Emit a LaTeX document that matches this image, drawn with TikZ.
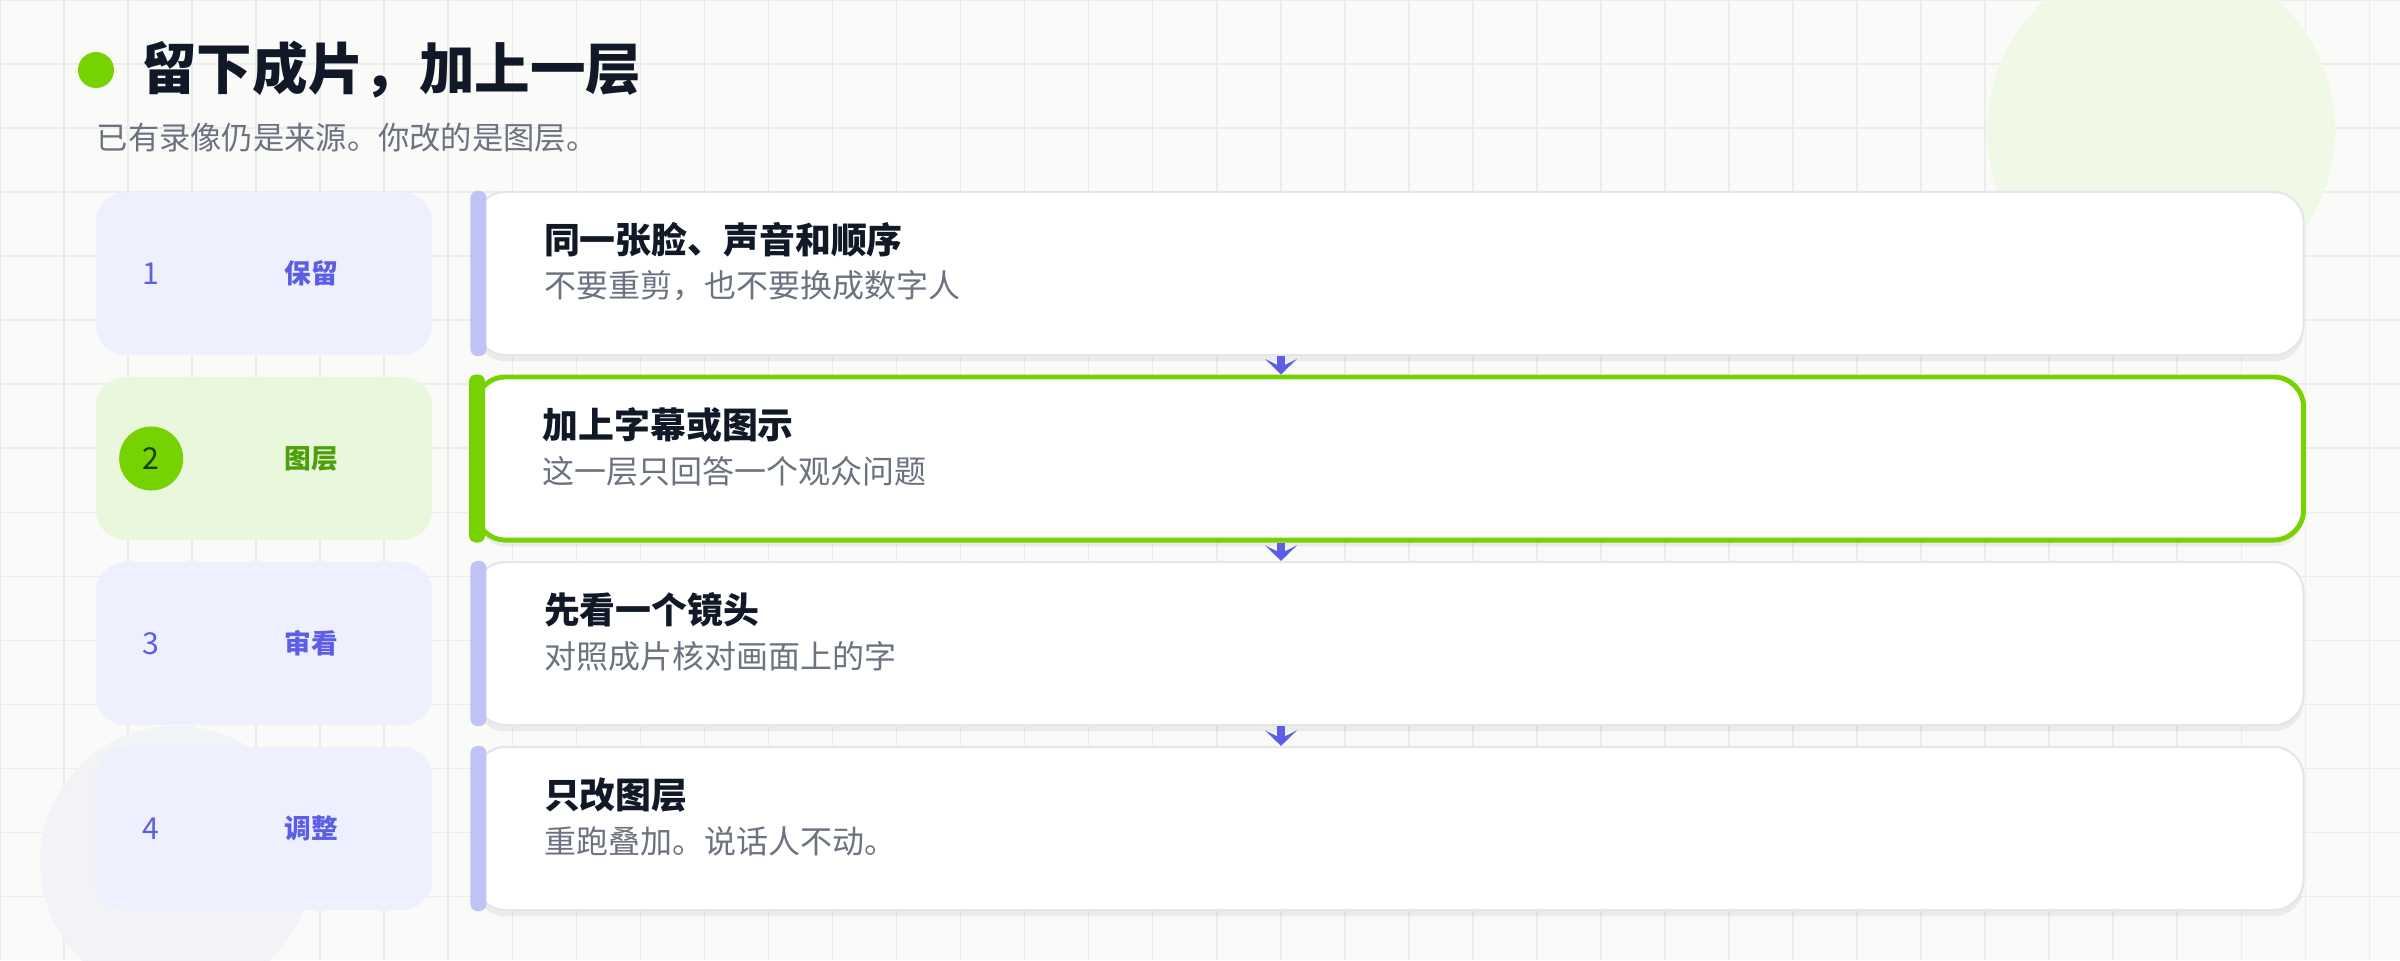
\documentclass[tikz,border=0pt]{standalone}
\usepackage{fontspec}
\setmainfont{Noto Sans CJK SC}
\usetikzlibrary{arrows.meta,positioning,calc,shadows}
\definecolor{pagebg}{RGB}{250,251,249}
\definecolor{gridline}{RGB}{235,237,235}
\definecolor{lime}{RGB}{118,210,0}
\definecolor{limesoft}{RGB}{233,247,220}
\definecolor{limetext}{RGB}{78,160,10}
\definecolor{limedark}{RGB}{24,64,0}
\definecolor{indigo}{RGB}{92,95,230}
\definecolor{indigosoft}{RGB}{238,240,254}
\definecolor{indigobar}{RGB}{192,195,248}
\definecolor{cardedge}{RGB}{228,230,236}
\definecolor{ink}{RGB}{17,24,39}
\definecolor{muted}{RGB}{107,114,128}
\definecolor{blobgreen}{RGB}{240,248,230}
\definecolor{blobgray}{RGB}{242,243,246}
\tikzset{
  titledot/.style={circle, fill=lime, minimum size=0.36cm, inner sep=0pt},
  pagetitle/.style={inner sep=0pt, text=ink, font=\fontsize{15.8}{19}\selectfont\bfseries},
  pagesub/.style={inner sep=0pt, anchor=west, text=muted, font=\fontsize{8.9}{11}\selectfont},
  stepbox/.style={rounded corners=0.3cm, minimum width=3.36cm, minimum height=1.63cm, inner sep=0pt},
  numdot/.style={circle, minimum size=0.64cm, inner sep=0pt, font=\fontsize{8.6}{10}\selectfont},
  steplabel/.style={inner sep=0pt, font=\fontsize{7.6}{9}\selectfont\bfseries},
  card/.style={rounded corners=0.3cm, fill=white, minimum width=18.27cm, minimum height=1.63cm, inner sep=0pt,
    drop shadow={shadow xshift=0pt, shadow yshift=-1.8pt, opacity=0.06, fill=black}},
  cardtitle/.style={anchor=west, inner sep=0pt, text=ink, font=\fontsize{10.2}{12}\selectfont\bfseries},
  cardsub/.style={anchor=west, inner sep=0pt, text=muted, font=\fontsize{9.1}{11}\selectfont},
  flowarrow/.style={draw=indigo, line width=2.3pt, -{Stealth[length=4.4pt, width=9pt, inset=2.2pt]}}
}
\begin{document}
\begin{tikzpicture}[x=0.01cm, y=-0.01cm]
  \useasboundingbox (0,0) rectangle (2400,960);

  %% Page and grid
  \fill[pagebg] (0,0) rectangle (2400,960);
  \draw[gridline, line width=0.45pt, step=0.64cm] (0,0) grid (2400,960);
  \fill[blobgreen] (2161,130) circle[radius=1.74cm];
  \fill[blobgray] (176,862) circle[radius=1.36cm];

  %% Heading
  \node[titledot] (dot) at (96,70) {};
  \node[pagetitle, right=0.26cm of dot] (title) {留下成片，加上一层};
  \node[pagesub] (sub) at (96,138) {已有录像仍是来源。你改的是图层。};

  \coordinate (ax) at (1281,0);

  %% Steps and cards
  \foreach \i/\lab/\ttl/\sub/\bg/\lfg/\nbg/\nfg/\edge/\ew/\barc
     [evaluate=\i as \rowy using 273.5+185*(\i-1)] in {
       1/保留/同一张脸、声音和顺序/不要重剪，也不要换成数字人/indigosoft/indigo/indigosoft/indigo/cardedge/0.6pt/indigobar,
       2/图层/加上字幕或图示/这一层只回答一个观众问题/limesoft/limetext/lime/limedark/lime/1.4pt/lime,
       3/审看/先看一个镜头/对照成片核对画面上的字/indigosoft/indigo/indigosoft/indigo/cardedge/0.6pt/indigobar,
       4/调整/只改图层/重跑叠加。说话人不动。/indigosoft/indigo/indigosoft/indigo/cardedge/0.6pt/indigobar}{
    \node[stepbox, fill=\bg] (s\i) at (264,\rowy) {};
    \node[numdot, fill=\nbg, text=\nfg] (n\i) at ($(s\i.west)+(56,0)$) {\i};
    \node[steplabel, text=\lfg] (l\i) at ($(s\i.west)+(216,0)$) {\lab};
    \node[card, draw=\edge, line width=\ew] (c\i) at (1389.5,\rowy) {};
    \fill[fill=\barc, rounded corners=0.07cm] ($(c\i.north west)+(-4,0)$) rectangle ($(c\i.south west)+(12,0)$);
    \node[cardtitle] (t\i) at ($(c\i.west)+(69,-33.5)$) {\ttl};
    \node[cardsub] (d\i) at ($(c\i.west)+(69,12.5)$) {\sub};
  }

  %% Flow between cards
  \foreach \i [evaluate=\i as \j using int(\i+1)] in {1,2,3}
    \draw[flowarrow] (c\i.south -| ax) -- (c\j.north -| ax);

\end{tikzpicture}
\end{document}
